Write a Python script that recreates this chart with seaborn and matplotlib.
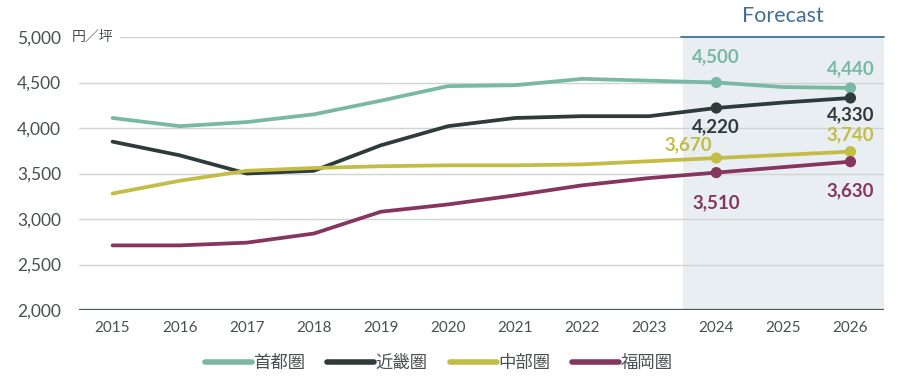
import matplotlib
matplotlib.use("Agg")
import matplotlib.pyplot as plt
import seaborn as sns
import pandas as pd

years = [2015, 2016, 2017, 2018, 2019, 2020, 2021, 2022, 2023, 2024, 2025, 2026]
shutoken = [4110, 4020, 4065, 4150, 4300, 4460, 4470, 4540, 4520, 4500, 4450, 4440]
kinki = [3850, 3700, 3500, 3530, 3810, 4020, 4110, 4130, 4130, 4220, 4280, 4330]
chubu = [3280, 3420, 3530, 3560, 3580, 3590, 3590, 3600, 3635, 3670, 3705, 3740]
fukuoka = [2710, 2710, 2740, 2840, 3080, 3160, 3260, 3370, 3450, 3510, 3570, 3630]
series_names = ["首都圏", "近畿圏", "中部圏", "福岡圏"]
colors = ["#79b9a3", "#2f3a3a", "#c3bc45", "#86355f"]
marked_years = [2024, 2026]
yticks = [2000, 2500, 3000, 3500, 4000, 4500, 5000]

sns.set_theme(style="white")
plt.rcParams["font.family"] = ["Lato", "Noto Sans CJK JP", "DejaVu Sans"]

rows = []
for name, vals in zip(series_names, [shutoken, kinki, chubu, fukuoka]):
    for y, v in zip(years, vals):
        rows.append({"year": y, "value": v, "region": name})
df = pd.DataFrame(rows)
palette = dict(zip(series_names, colors))

fig = plt.figure(figsize=(9, 3.79), dpi=100)
ax = fig.add_axes([79/900, 1-310/379, (884-79)/900, (310-37)/379])

# forecast band
ax.axvspan(2023.5, 2026.5, color="#e8eef1", zorder=0, lw=0)

# gridlines
for t in yticks[1:-1]:
    ax.axhline(t, color="#cfd3d4", lw=1.0, zorder=1)
ax.axhline(5000, xmin=(120-79)/(884-79), xmax=(681-79)/(884-79), color="#cfd3d4", lw=1.0, zorder=1)
ax.axhline(5000, xmin=(681-79)/(884-79), xmax=1, color="#3f6f99", lw=1.3, zorder=2, clip_on=False)
ax.axhline(2000, color="#4b5656", lw=1.6, zorder=2)

sns.lineplot(data=df, x="year", y="value", hue="region", palette=palette,
             linewidth=2.7, ax=ax, zorder=3, legend=True)
mk = df[df["year"].isin(marked_years)]
sns.scatterplot(data=mk, x="year", y="value", hue="region", palette=palette,
                s=65, edgecolor="none", ax=ax, zorder=4, legend=False)

ax.set_xlim(2014.5, 2026.5)
ax.set_ylim(2000, 5000)
ax.set_xticks(years)
ax.set_xticklabels([str(y) for y in years])
ax.set_yticks(yticks)
ax.set_yticklabels([f"{t:,}" for t in yticks])
ax.tick_params(axis="both", length=0, labelcolor="#4a4f52")
ax.tick_params(axis="x", labelsize=11, pad=8)
ax.tick_params(axis="y", labelsize=12.5, pad=13)
ax.set_xlabel("")
ax.set_ylabel("")
for s in ax.spines.values():
    s.set_visible(False)

ax.text((93-79)/805, 5000, "円／坪", ha="center", va="center", fontsize=10,
        color="#4a4f52", transform=ax.get_yaxis_transform(),
        family=["Noto Sans CJK JP", "DejaVu Sans"])

ax.text(2025.0, 5000 + 21/0.091, "Forecast", ha="center", va="center", fontsize=15.5,
        color="#3f6f99")

# value annotations
ann = [
    (2024, 4500, "4,500", colors[0], 0, 26),
    (2026, 4440, "4,440", colors[0], 0, 19),
    (2024, 4220, "4,220", colors[1], 0, -19),
    (2026, 4330, "4,330", colors[1], 0, -17),
    (2024, 3670, "3,670", colors[2], -28, 13),
    (2026, 3740, "3,740", colors[2], 0, 17),
    (2024, 3510, "3,510", colors[3], 0, -30),
    (2026, 3630, "3,630", colors[3], 0, -29),
]
for x, y, t, c, dx, dy in ann:
    ax.annotate(t, (x, y), xytext=(dx, dy), textcoords="offset pixels",
                ha="center", va="center", fontsize=13.5, fontweight="bold", color=c)

handles, labels = ax.get_legend_handles_labels()
for h in handles:
    h.set_linewidth(4)
leg = ax.legend(handles, labels, loc="center", bbox_to_anchor=(0.447, -0.195), ncol=4,
                frameon=False, handlelength=2.7, handletextpad=0.1, columnspacing=1.25,
                prop={"family": ["Noto Sans CJK JP", "DejaVu Sans"], "size": 12.5})
for txt in leg.get_texts():
    txt.set_color("#4a4f52")

fig.savefig("out.png", dpi=100)
